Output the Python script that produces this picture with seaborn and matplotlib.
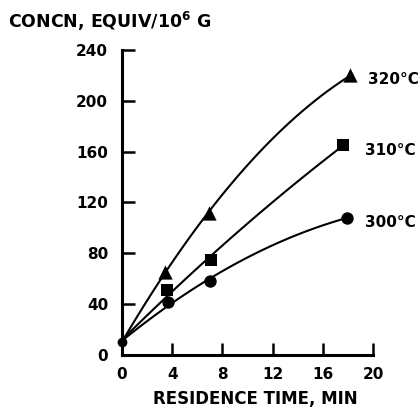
import numpy as np
import pandas as pd
import matplotlib
matplotlib.use("Agg")
import matplotlib.pyplot as plt
import seaborn as sns

# Residence time (min) and concentration (equiv/10^6 g) per temperature
time_320 = [0.0, 3.4, 6.9, 18.2]
conc_320 = [10, 65, 112, 220]
time_310 = [0.0, 3.6, 7.1, 17.6]
conc_310 = [10, 51, 75, 165]
time_300 = [0.0, 3.7, 7.0, 17.9]
conc_300 = [10, 42, 58, 108]
temps = ["320°C", "310°C", "300°C"]
markers = {"320°C": "^", "310°C": "s", "300°C": "o"}
sizes = {"320°C": 105, "310°C": 75, "300°C": 80}
label_pos = {"320°C": (19.6, 217), "310°C": (19.4, 161), "300°C": (19.4, 104)}
x_ticks = [0, 4, 8, 12, 16, 20]
y_ticks = [0, 40, 80, 120, 160, 200, 240]

frames = []
for t, xs, ys in zip(temps, [time_320, time_310, time_300], [conc_320, conc_310, conc_300]):
    frames.append(pd.DataFrame({"time": xs, "conc": ys, "temp": t}))
df = pd.concat(frames, ignore_index=True)

sns.set_style("ticks")
plt.rcParams["font.family"] = ["DejaVu Sans"]
plt.rcParams["font.weight"] = "bold"
plt.rcParams["text.color"] = "black"
plt.rcParams["xtick.color"] = "black"
plt.rcParams["ytick.color"] = "black"
plt.rcParams["axes.labelcolor"] = "black"

fig = plt.figure(figsize=(4.2, 4.11), dpi=100)
ax = fig.add_axes([0.2905, 0.1363, 0.5976, 0.742])

for t in temps:
    sub = df[df.temp == t]
    # Smooth quadratic fit through each temperature series
    sns.regplot(data=sub, x="time", y="conc", order=2, ci=None, scatter=False,
                truncate=True, ax=ax, line_kws=dict(color="black", lw=1.5))
    pts = sub[sub.time > 0]
    sns.scatterplot(data=pts, x="time", y="conc", marker=markers[t], s=sizes[t],
                    color="black", edgecolor="black", linewidth=0, ax=ax,
                    clip_on=False, zorder=5)
    lx, ly = label_pos[t]
    ax.text(lx, ly, t, fontsize=11, va="center", ha="left", fontweight="bold",
            color="black", clip_on=False)

# common starting point of all three runs
ax.plot([time_300[0]], [conc_300[0]], marker="o", color="black", ms=6,
        clip_on=False, zorder=5)

ax.set_xlim(0, 20)
ax.set_ylim(0, 240)
ax.set_xticks(x_ticks)
ax.set_yticks(y_ticks)
ax.set_xticklabels([str(v) for v in x_ticks], fontsize=11, fontweight="bold", color="black")
ax.set_yticklabels([str(v) for v in y_ticks], fontsize=11, fontweight="bold", color="black")
ax.tick_params(axis="both", direction="in", length=9, width=1.8, color="black",
               labelcolor="black")
ax.tick_params(axis="x", pad=9)
ax.tick_params(axis="y", pad=10)
for s in ["top", "right"]:
    ax.spines[s].set_visible(False)
for s in ["left", "bottom"]:
    ax.spines[s].set_linewidth(2.2)
    ax.spines[s].set_color("black")

ax.set_xlabel("")
ax.set_ylabel("")
fig.text(0.607, 0.030, "RESIDENCE TIME, MIN", fontsize=12, fontweight="bold",
         ha="center", va="center", color="black")
fig.text(0.019, 0.949, "CONCN, EQUIV/10$^{6}$ G", fontsize=12.5, fontweight="bold",
         ha="left", va="center", color="black")

fig.savefig("out.png", dpi=100, facecolor="white")
